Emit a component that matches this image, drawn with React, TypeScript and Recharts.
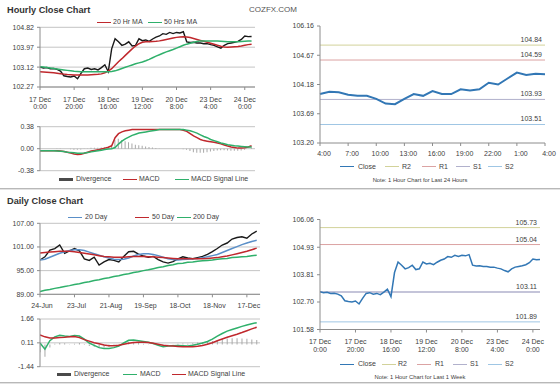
import React from 'react';
import { LineChart, ComposedChart, Line, Bar, XAxis, YAxis, CartesianGrid, ReferenceLine } from 'recharts';

// ---------- Hourly (1 week, 2-hour samples) ----------
const hourlyHours = [0,2,4,6,8,10,12,14,16,18,20,22,24,26,28,30,32,34,36,38,40,42,44,46,48,50,52,54,56,58,60,62,64,66,68,70,72,74,76,78,80,82,84,86,88,90,92,94,96,98,100,102,104,106,108,110,112,114,116,118,120,122,124];
const hourlyClose = [103.12,103.08,103.10,103.05,103.06,103.02,102.95,102.75,102.72,102.70,
  102.74,102.62,102.85,103.05,103.08,103.02,103.05,103.00,103.10,103.22,
  102.92,103.90,104.33,104.20,104.05,104.10,104.20,104.02,104.05,104.33,
  104.25,104.28,104.22,104.32,104.40,104.45,104.55,104.52,104.60,104.55,
  104.60,104.58,104.63,104.20,104.17,104.18,104.15,104.15,104.12,104.12,
  104.08,104.05,103.98,103.93,104.05,104.12,104.15,104.18,104.22,104.30,
  104.45,104.42,104.43];
const hourlyMa20 = [102.92,102.91,102.90,102.89,102.88,102.86,102.84,102.82,102.80,102.79,
  102.78,102.78,102.78,102.78,102.78,102.79,102.80,102.81,102.83,102.88,
  102.95,103.05,103.20,103.35,103.48,103.62,103.76,103.90,104.02,104.12,
  104.18,104.20,104.20,104.21,104.22,104.24,104.27,104.30,104.33,104.36,
  104.39,104.41,104.42,104.41,104.38,104.34,104.30,104.26,104.22,104.18,
  104.14,104.10,104.05,104.01,103.98,103.97,103.98,103.99,104.00,104.02,
  104.05,104.08,104.10];
const hourlyMa50 = [103.13,103.12,103.10,103.08,103.06,103.04,103.02,103.00,102.98,102.96,
  102.94,102.93,102.92,102.92,102.92,102.92,102.92,102.92,102.92,102.92,
  102.92,102.93,102.96,103.01,103.06,103.11,103.16,103.21,103.26,103.30,
  103.34,103.39,103.45,103.52,103.59,103.65,103.71,103.77,103.82,103.87,
  103.93,103.99,104.05,104.10,104.14,104.18,104.21,104.24,104.24,104.24,
  104.24,104.24,104.23,104.22,104.21,104.20,104.20,104.20,104.20,104.21,
  104.22,104.23,104.24];
const hourlyMacd = [-0.035,-0.035,-0.035,-0.035,-0.035,-0.035,-0.04,-0.05,-0.06,-0.075,
  -0.09,-0.10,-0.095,-0.08,-0.06,-0.04,-0.03,-0.02,-0.005,0.01,
  0.025,0.05,0.19,0.26,0.29,0.31,0.32,0.33,0.33,0.33,
  0.33,0.33,0.33,0.33,0.33,0.33,0.33,0.33,0.33,0.33,
  0.33,0.33,0.32,0.30,0.26,0.22,0.19,0.16,0.14,0.13,
  0.12,0.11,0.10,0.085,0.065,0.045,0.03,0.02,0.01,0.01,
  0.015,0.03,0.05];
const hourlySignal = [-0.035,-0.035,-0.035,-0.035,-0.035,-0.04,-0.045,-0.05,-0.06,-0.065,
  -0.07,-0.08,-0.08,-0.075,-0.065,-0.055,-0.045,-0.035,-0.025,-0.015,
  -0.005,0.0,0.02,0.08,0.13,0.17,0.20,0.23,0.25,0.27,
  0.28,0.29,0.30,0.31,0.32,0.33,0.33,0.33,0.33,0.33,
  0.33,0.33,0.33,0.32,0.31,0.29,0.27,0.24,0.21,0.19,
  0.16,0.14,0.12,0.10,0.085,0.07,0.06,0.05,0.045,0.04,
  0.035,0.03,0.03];
const hourlyDiv = [0,0,0,0,0,0.005,0.005,0,0,-0.01,
  -0.02,-0.02,-0.015,-0.005,0.005,0.015,0.015,0.015,0.02,0.025,
  0.03,0.05,0.15,0.17,0.15,0.13,0.11,0.09,0.07,0.06,
  0.05,0.04,0.03,0.02,0.01,0.005,0,0,0,0,
  0,0,-0.01,-0.02,-0.04,-0.06,-0.07,-0.07,-0.07,-0.06,
  -0.05,-0.04,-0.03,-0.025,-0.025,-0.03,-0.035,-0.035,-0.035,-0.03,
  -0.02,0.0,0.02];
const hourTicks = [0,20,40,60,80,100,120];
const hourTickDates = ['17 Dec','17 Dec','18 Dec','19 Dec','20 Dec','23 Dec','24 Dec'];
const hourTickTimes = ['0:00','20:00','16:00','12:00','8:00','4:00','0:00'];
const hourlyPriceTicks = [102.27,103.12,103.97,104.82];
const hourlyMacdTicks = [-0.38,0,0.38];

// ---------- 24 hours ----------
const dayHours = [0,1,2,3,4,5,6,7,8,9,10,11,12,13,14,15,16,17,18,19,20,21,22,23,24];
const dayClose = [104.02,104.06,104.05,104.01,103.99,103.99,103.94,103.86,103.85,103.94,104.02,103.99,104.07,104.02,104.02,104.10,104.08,104.10,104.21,104.18,104.28,104.38,104.34,104.36,104.35];
const dayTicks = [0,3,6,9,12,15,18,21,24];
const dayTickLabels = ['4:00','7:00','10:00','13:00','16:00','19:00','22:00','1:00','4:00'];
const dayYTicks = [103.20,103.69,104.18,104.67,105.16];
const dayYLabels = ['103.20','103.69','104.18','104.67','106.16'];
const dayLevels = { R2: 104.84, R1: 104.59, S1: 103.93, S2: 103.51 };

// ---------- Week levels ----------
const weekYTicks = [101.58,102.70,103.81,104.93,106.06];
const weekLevels = { R2: 105.73, R1: 105.04, S1: 103.11, S2: 101.89 };

// ---------- Daily ----------
const dailyDays = [0,3,6,9,12,15,18,21,24,27,30,33,36,39,42,45,48,51,54,57,60,63,66,69,72,75,78,81,84,87,90,93,96,99,102,105,108,111,114,117,120,123,126,129,132];
const dailyClose = [97.7,98.5,100.2,100.6,101.5,99.4,100.0,100.6,100.0,98.0,
  97.6,98.4,96.4,97.2,97.8,97.6,97.2,98.6,99.8,99.9,
  99.2,98.7,98.4,98.6,97.8,97.2,96.9,97.3,98.0,98.5,
  98.2,98.0,98.3,98.6,99.1,99.8,100.6,101.5,102.0,103.0,
  103.4,103.6,103.2,104.3,105.0];
const daily20 = [97.7,97.9,98.4,98.9,99.4,99.8,100.1,100.3,100.3,100.1,
  99.7,99.3,98.9,98.5,98.2,97.9,97.8,97.9,98.2,98.7,
  99.1,99.3,99.3,99.1,98.8,98.4,98.0,97.8,97.7,97.8,
  97.9,98.0,98.1,98.3,98.5,98.8,99.1,99.6,100.1,100.6,
  101.1,101.6,102.0,102.4,102.7];
const daily50 = [99.5,99.6,99.7,99.8,99.9,99.9,99.9,99.8,99.6,99.4,
  99.2,99.0,98.8,98.6,98.5,98.4,98.4,98.4,98.5,98.6,
  98.6,98.6,98.5,98.5,98.4,98.3,98.2,98.1,98.0,98.0,
  98.0,98.0,98.0,98.0,98.1,98.2,98.3,98.5,98.7,99.0,
  99.3,99.6,99.9,100.3,100.7];
const daily200 = [89.7,90.0,90.2,90.5,90.7,91.0,91.2,91.5,91.7,92.0,
  92.2,92.5,92.7,93.0,93.2,93.5,93.7,94.0,94.2,94.5,
  94.7,95.0,95.2,95.5,95.8,96.0,96.3,96.5,96.8,96.9,
  97.1,97.2,97.4,97.5,97.6,97.7,97.9,98.0,98.1,98.3,
  98.4,98.5,98.6,98.8,98.9];
const dailyMacd = [0.1,-0.3,0.25,0.5,0.6,0.55,0.52,0.58,0.55,0.35,
  0.1,-0.05,-0.2,-0.25,-0.25,-0.2,-0.1,0.1,0.28,0.3,
  0.25,0.2,0.15,0.07,-0.05,-0.15,-0.1,-0.08,-0.06,-0.08,
  -0.1,-0.05,0.02,0.1,0.2,0.35,0.55,0.72,0.87,0.98,
  1.08,1.18,1.27,1.35,1.42];
const dailySignal = [0.62,0.5,0.42,0.42,0.45,0.47,0.5,0.52,0.45,0.32,
  0.22,0.12,0.05,-0.03,-0.08,-0.08,-0.05,0.02,0.08,0.13,
  0.15,0.15,0.13,0.08,0.02,-0.04,-0.08,-0.1,-0.12,-0.14,
  -0.15,-0.14,-0.11,-0.06,0.02,0.12,0.25,0.36,0.47,0.57,
  0.67,0.78,0.9,1.02,1.12];
const dailyDiv = [-0.5,-0.8,-0.2,0.05,0.1,0.08,0.02,0.05,0.1,0.03,
  -0.1,-0.15,-0.22,-0.2,-0.15,-0.1,-0.05,0.06,0.18,0.15,
  0.1,0.05,0.02,-0.01,-0.07,-0.1,-0.02,0.02,0.05,0.06,
  0.05,0.09,0.13,0.16,0.18,0.23,0.3,0.36,0.4,0.41,
  0.41,0.4,0.37,0.33,0.3];
const dailyTicks = [0,21,42,63,84,105,126];
const dailyTickLabels = ['24-Jun','23-Jul','21-Aug','19-Sep','18-Oct','18-Nov','17-Dec'];
const dailyPriceTicks = [89,95,101,107];
const dailyMacdTicks = [-1.44,0.11,1.66];

// ---------- styles ----------
const FONT = '"Liberation Sans", Arial, Helvetica, sans-serif';
const TXT = '#404040';
const AXIS = '#8c8c8c';
const GRID = '#c4c4c4';
const RED = '#c0282d';
const GREEN = '#2fb06b';
const BLUE_MA = '#5a8fc8';
const CLOSE_BLUE = '#3277b5';
const DIV_GRAY = '#a8a8a8';
const R2C = '#d2d29a';
const R1C = '#dba3a3';
const S1C = '#b1b1cc';
const S2C = '#9fc6e4';

const hourlyRows = hourlyHours.map((h, i) => ({
  h, close: hourlyClose[i], ma20: hourlyMa20[i], ma50: hourlyMa50[i],
  macd: hourlyMacd[i], signal: hourlySignal[i], div: hourlyDiv[i],
}));
const dayRows = dayHours.map((h, i) => ({ h, close: dayClose[i] }));
const dailyRows = dailyDays.map((d, i) => ({
  d, close: dailyClose[i], ma20: daily20[i], ma50: daily50[i], ma200: daily200[i],
  macd: dailyMacd[i], signal: dailySignal[i], div: dailyDiv[i],
}));

const yTick = { fontSize: 7, fill: TXT, fontFamily: FONT };

const TwoLineTick = (props: any) => {
  const { x, y, payload } = props;
  const i = hourTicks.indexOf(payload.value);
  return (
    <g>
      <text x={x} y={y + 11.5} textAnchor="middle" fontSize={7} fill={TXT} fontFamily={FONT}>{hourTickDates[i]}</text>
      <text x={x} y={y + 19} textAnchor="middle" fontSize={7} fill={TXT} fontFamily={FONT}>{hourTickTimes[i]}</text>
    </g>
  );
};

const DayTick = (props: any) => {
  const { x, y, payload } = props;
  const i = dayTicks.indexOf(payload.value);
  return (
    <text x={x + 4} y={y + 10} textAnchor="middle" fontSize={7} fill={TXT} fontFamily={FONT}>{dayTickLabels[i]}</text>
  );
};

const DailyTick = (props: any) => {
  const { x, y, payload } = props;
  const i = dailyTicks.indexOf(payload.value);
  return (
    <text x={x + 2} y={y + 11} textAnchor="middle" fontSize={7} fill={TXT} fontFamily={FONT}>{dailyTickLabels[i]}</text>
  );
};

type LegItem = { label: string; color: string; lx: number; tx: number; thick?: boolean };
const Legend = ({ items, y }: { items: LegItem[]; y: number }) => (
  <>
    {items.map((it) => (
      <React.Fragment key={it.label}>
        <div style={{ position: 'absolute', left: it.lx, top: y - (it.thick ? 1.5 : 0.5), width: 14, height: it.thick ? 3 : 1, background: it.color }} />
        <div style={{ position: 'absolute', left: it.tx, top: y - 5, height: 10, lineHeight: '10px', fontSize: 7, color: TXT, fontFamily: FONT, whiteSpace: 'nowrap' }}>{it.label}</div>
      </React.Fragment>
    ))}
  </>
);

const refLabel = (v: number) => ({ value: v.toFixed(2), position: 'insideBottomRight' as const, offset: 3, fill: TXT, fontSize: 7, fontFamily: FONT });

const abs = (left: number, top: number): React.CSSProperties => ({ position: 'absolute', left, top });

export default function App() {
  return (
    <div style={{ position: 'absolute', left: 0, top: 0, width: 560, height: 384, background: '#fff', overflow: 'hidden', fontFamily: FONT }}>
      {/* titles */}
      <div style={{ position: 'absolute', left: 7, top: 4, fontSize: 9.2, fontWeight: 'bold', color: '#333', lineHeight: '12px' }}>Hourly Close Chart</div>
      <div style={{ position: 'absolute', left: 249, top: 5, fontSize: 8, color: '#555', lineHeight: '10px' }}>COZFX.COM</div>
      <div style={{ position: 'absolute', left: 7, top: 195, fontSize: 9.2, fontWeight: 'bold', color: '#333', lineHeight: '12px' }}>Daily Close Chart</div>

      {/* separators */}
      <div style={{ position: 'absolute', left: 0, top: 188, width: 560, height: 1, background: '#b8b8b8' }} />
      <div style={{ position: 'absolute', left: 0, top: 189, width: 560, height: 1, background: '#e2e2e2' }} />
      <div style={{ position: 'absolute', left: 0, top: 382, width: 560, height: 1, background: '#b8b8b8' }} />
      <div style={{ position: 'absolute', left: 0, top: 383, width: 560, height: 1, background: '#e2e2e2' }} />

      {/* Hourly price */}
      <Legend y={22.3} items={[
        { label: '20 Hr MA', color: RED, lx: 97, tx: 113 },
        { label: '50 Hrs MA', color: GREEN, lx: 148, tx: 164 },
      ]} />
      <div style={abs(0, 15)}>
        <LineChart width={265} height={100} data={hourlyRows} margin={{ top: 12.3, right: 10, bottom: 0, left: 0 }}>
          <CartesianGrid vertical={false} stroke={GRID} />
          <XAxis type="number" dataKey="h" domain={[0, 126]} ticks={hourTicks} interval={0} height={28} tickSize={3} tickMargin={0} tick={TwoLineTick} stroke={AXIS} allowDataOverflow />
          <YAxis type="number" domain={[102.27, 104.82]} ticks={hourlyPriceTicks} interval={0} width={40} tickSize={3} tickMargin={3} tick={yTick} stroke={AXIS} tickFormatter={(v: number) => v.toFixed(2)} allowDataOverflow />
          <Line dataKey="close" stroke="#1a1a1a" strokeWidth={1.4} dot={false} isAnimationActive={false} />
          <Line dataKey="ma20" stroke={RED} strokeWidth={1.5} dot={false} isAnimationActive={false} />
          <Line dataKey="ma50" stroke={GREEN} strokeWidth={1.5} dot={false} isAnimationActive={false} />
        </LineChart>
      </div>

      {/* Hourly MACD */}
      <div style={abs(0, 120)}>
        <ComposedChart width={265} height={55} data={hourlyRows} margin={{ top: 6.7, right: 10, bottom: 4.3, left: 0 }}>
          <CartesianGrid vertical={false} stroke={GRID} />
          <XAxis type="number" dataKey="h" domain={[0, 126]} hide allowDataOverflow />
          <YAxis type="number" domain={[-0.38, 0.38]} ticks={hourlyMacdTicks} interval={0} width={40} tickSize={3} tickMargin={3} tick={yTick} stroke={AXIS} tickFormatter={(v: number) => v.toFixed(2)} allowDataOverflow />
          <Bar dataKey="div" fill={DIV_GRAY} barSize={1} isAnimationActive={false} />
          <Line dataKey="macd" stroke={RED} strokeWidth={1.5} dot={false} isAnimationActive={false} />
          <Line dataKey="signal" stroke={GREEN} strokeWidth={1.5} dot={false} isAnimationActive={false} />
        </ComposedChart>
      </div>
      <Legend y={179} items={[
        { label: 'Divergence', color: '#4a4a4a', lx: 59, tx: 76, thick: true },
        { label: 'MACD', color: RED, lx: 123, tx: 139 },
        { label: 'MACD Signal Line', color: GREEN, lx: 175, tx: 191 },
      ]} />

      {/* 24-hour chart */}
      <div style={abs(280, 15)}>
        <LineChart width={280} height={145} data={dayRows} margin={{ top: 11, right: 15, bottom: 0, left: 0 }}>
          <XAxis type="number" dataKey="h" domain={[0, 24]} ticks={dayTicks} interval={0} height={17} tickSize={3} tickMargin={0} tick={DayTick} stroke={AXIS} />
          <YAxis type="number" domain={[103.2, 105.16]} ticks={dayYTicks} interval={0} width={40} tickSize={3} tickMargin={3} tick={yTick} stroke={AXIS} tickFormatter={(v: number) => dayYLabels[dayYTicks.indexOf(v)]} allowDataOverflow />
          <ReferenceLine y={dayLevels.R2} stroke={R2C} strokeWidth={1} label={refLabel(dayLevels.R2)} />
          <ReferenceLine y={dayLevels.R1} stroke={R1C} strokeWidth={1} label={refLabel(dayLevels.R1)} />
          <ReferenceLine y={dayLevels.S1} stroke={S1C} strokeWidth={1} label={refLabel(dayLevels.S1)} />
          <ReferenceLine y={dayLevels.S2} stroke={S2C} strokeWidth={1} label={refLabel(dayLevels.S2)} />
          <Line dataKey="close" stroke={CLOSE_BLUE} strokeWidth={2} dot={false} isAnimationActive={false} />
        </LineChart>
      </div>
      <Legend y={166.7} items={[
        { label: 'Close', color: CLOSE_BLUE, lx: 340, tx: 358 },
        { label: 'R2', color: R2C, lx: 385, tx: 402 },
        { label: 'R1', color: R1C, lx: 422, tx: 439 },
        { label: 'S1', color: S1C, lx: 456, tx: 473 },
        { label: 'S2', color: S2C, lx: 488, tx: 505 },
      ]} />
      <div style={{ position: 'absolute', left: 320, width: 200, top: 176.5, textAlign: 'center', fontSize: 5.8, color: TXT, lineHeight: '7px' }}>Note: 1 Hour Chart for Last 24 Hours</div>

      {/* Daily price */}
      <Legend y={217.3} items={[
        { label: '20 Day', color: BLUE_MA, lx: 68, tx: 85 },
        { label: '50 Day', color: RED, lx: 135, tx: 152 },
        { label: '200 Day', color: GREEN, lx: 177, tx: 193 },
      ]} />
      <div style={abs(0, 210)}>
        <LineChart width={270} height={100} data={dailyRows} margin={{ top: 13.3, right: 10, bottom: 0, left: 0 }}>
          <CartesianGrid vertical={false} stroke={GRID} />
          <XAxis type="number" dataKey="d" domain={[0, 134]} ticks={dailyTicks} interval={0} height={15.7} tickSize={3} tickMargin={0} tick={DailyTick} stroke={AXIS} allowDataOverflow />
          <YAxis type="number" domain={[89, 107]} ticks={dailyPriceTicks} interval={0} width={40} tickSize={3} tickMargin={3} tick={yTick} stroke={AXIS} tickFormatter={(v: number) => v.toFixed(2)} allowDataOverflow />
          <Line dataKey="close" stroke="#1a1a1a" strokeWidth={1.4} dot={false} isAnimationActive={false} />
          <Line dataKey="ma20" stroke={BLUE_MA} strokeWidth={1.5} dot={false} isAnimationActive={false} />
          <Line dataKey="ma50" stroke={RED} strokeWidth={1.5} dot={false} isAnimationActive={false} />
          <Line dataKey="ma200" stroke={GREEN} strokeWidth={1.5} dot={false} isAnimationActive={false} />
        </LineChart>
      </div>

      {/* Daily MACD */}
      <div style={abs(0, 312)}>
        <ComposedChart width={270} height={58} data={dailyRows} margin={{ top: 7, right: 10, bottom: 3.3, left: 0 }}>
          <CartesianGrid vertical={false} stroke={GRID} />
          <XAxis type="number" dataKey="d" domain={[0, 134]} hide allowDataOverflow />
          <YAxis type="number" domain={[-1.44, 1.66]} ticks={dailyMacdTicks} interval={0} width={40} tickSize={3} tickMargin={3} tick={yTick} stroke={AXIS} tickFormatter={(v: number) => v.toFixed(2)} allowDataOverflow />
          <Bar dataKey="div" fill={DIV_GRAY} barSize={1} isAnimationActive={false} />
          <Line dataKey="macd" stroke={GREEN} strokeWidth={1.5} dot={false} isAnimationActive={false} />
          <Line dataKey="signal" stroke={RED} strokeWidth={1.5} dot={false} isAnimationActive={false} />
        </ComposedChart>
      </div>
      <Legend y={374} items={[
        { label: 'Divergence', color: '#4a4a4a', lx: 57, tx: 74, thick: true },
        { label: 'MACD', color: GREEN, lx: 123, tx: 140 },
        { label: 'MACD Signal Line', color: RED, lx: 172, tx: 188 },
      ]} />

      {/* 1-week chart */}
      <div style={abs(280, 210)}>
        <LineChart width={275} height={145} data={hourlyRows} margin={{ top: 9.5, right: 15, bottom: 0, left: 0 }}>
          <XAxis type="number" dataKey="h" domain={[0, 124]} ticks={hourTicks} interval={0} height={25.5} tickSize={3} tickMargin={0} tick={TwoLineTick} stroke={AXIS} allowDataOverflow />
          <YAxis type="number" domain={[101.58, 106.06]} ticks={weekYTicks} interval={0} width={40} tickSize={3} tickMargin={3} tick={yTick} stroke={AXIS} tickFormatter={(v: number) => v.toFixed(2)} allowDataOverflow />
          <ReferenceLine y={weekLevels.R2} stroke={R2C} strokeWidth={1} label={refLabel(weekLevels.R2)} />
          <ReferenceLine y={weekLevels.R1} stroke={R1C} strokeWidth={1} label={refLabel(weekLevels.R1)} />
          <ReferenceLine y={weekLevels.S1} stroke={S1C} strokeWidth={1.5} label={refLabel(weekLevels.S1)} />
          <ReferenceLine y={weekLevels.S2} stroke={S2C} strokeWidth={1} label={refLabel(weekLevels.S2)} />
          <Line dataKey="close" stroke={CLOSE_BLUE} strokeWidth={1.5} dot={false} isAnimationActive={false} />
        </LineChart>
      </div>
      <Legend y={364.3} items={[
        { label: 'Close', color: CLOSE_BLUE, lx: 340, tx: 358 },
        { label: 'R2', color: R2C, lx: 382, tx: 398 },
        { label: 'R1', color: R1C, lx: 417, tx: 435 },
        { label: 'S1', color: S1C, lx: 453, tx: 470 },
        { label: 'S2', color: S2C, lx: 488, tx: 505 },
      ]} />
      <div style={{ position: 'absolute', left: 320, width: 200, top: 374, textAlign: 'center', fontSize: 5.8, color: TXT, lineHeight: '7px' }}>Note: 1 Hour Chart for Last 1 Week</div>
    </div>
  );
}
